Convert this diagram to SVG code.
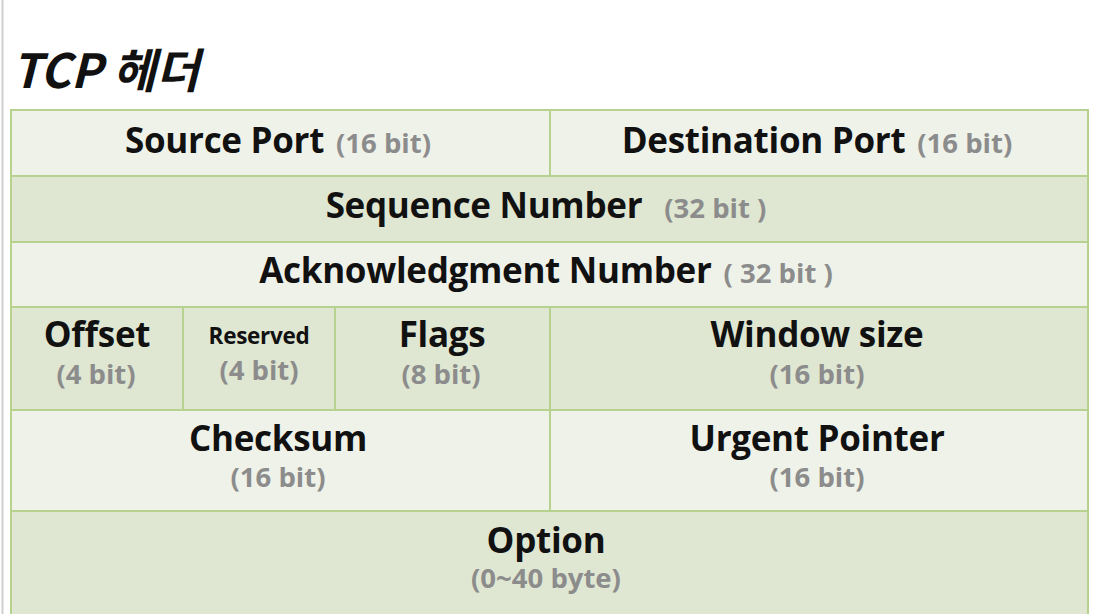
<svg xmlns="http://www.w3.org/2000/svg" width="1095" height="614" viewBox="0 0 1095 614">
<style>
.l{fill:#eff2e9;stroke:#b7d28e;stroke-width:2}
.d{fill:#dfe7d2;stroke:#b7d28e;stroke-width:2}
.t{font-family:"Open Sans","Noto Sans",sans-serif;font-weight:700;fill:#111;text-anchor:middle}
.m{font-size:35px;letter-spacing:-0.3px}
.s{font-size:27.5px;fill:#8c8c8c}
.r{font-size:22.5px;letter-spacing:-0.3px}
</style>
<rect width="1095" height="614" fill="#fff"/>
<line x1="2.5" y1="0" x2="2.5" y2="614" stroke="#cfcfcf" stroke-width="2"/>
<text x="12" y="88" font-family="'Noto Sans CJK KR','Noto Sans',sans-serif" font-size="47" font-style="italic" font-weight="700" fill="#111">TCP 헤더</text>
<g id="source-port"><rect class="l" x="11" y="110" width="539" height="66"/><text class="t" y="153" x="278"><tspan class="m">Source Port</tspan><tspan class="s" dx="12">(16 bit)</tspan></text></g>
<g id="destination-port"><rect class="l" x="550" y="110" width="538" height="66"/><text class="t" y="153" x="817"><tspan class="m">Destination Port</tspan><tspan class="s" dx="12">(16 bit)</tspan></text></g>
<g id="sequence-number"><rect class="d" x="11" y="176" width="1077" height="66"/><text class="t" y="218" x="546"><tspan class="m">Sequence Number</tspan><tspan class="s" dx="22">(32 bit )</tspan></text></g>
<g id="ack-number"><rect class="l" x="11" y="242" width="1077" height="65"/><text class="t" y="283" x="546"><tspan class="m">Acknowledgment Number</tspan><tspan class="s" dx="12">( 32 bit )</tspan></text></g>
<g id="offset"><rect class="d" x="11" y="307" width="172" height="103"/><text class="t m" x="97" y="347">Offset</text><text class="t s" x="96" y="384">(4 bit)</text></g>
<g id="reserved"><rect class="d" x="183" y="307" width="152" height="103"/><text class="t r" x="259" y="344">Reserved</text><text class="t s" x="259" y="380">(4 bit)</text></g>
<g id="flags"><rect class="d" x="335" y="307" width="215" height="103"/><text class="t m" x="442" y="347">Flags</text><text class="t s" x="441" y="384">(8 bit)</text></g>
<g id="window-size"><rect class="d" x="550" y="307" width="538" height="103"/><text class="t m" x="817" y="347">Window size</text><text class="t s" x="817" y="384">(16 bit)</text></g>
<g id="checksum"><rect class="l" x="11" y="410" width="539" height="101"/><text class="t m" x="278" y="451">Checksum</text><text class="t s" x="278" y="487">(16 bit)</text></g>
<g id="urgent-pointer"><rect class="l" x="550" y="410" width="538" height="101"/><text class="t m" x="817" y="451">Urgent Pointer</text><text class="t s" x="817" y="487">(16 bit)</text></g>
<g id="option"><rect class="d" x="11" y="511" width="1077" height="110"/><text class="t m" x="546" y="553">Option</text><text class="t s" x="546" y="588">(0~40 byte)</text></g>
<g id="connectors"></g>
</svg>
